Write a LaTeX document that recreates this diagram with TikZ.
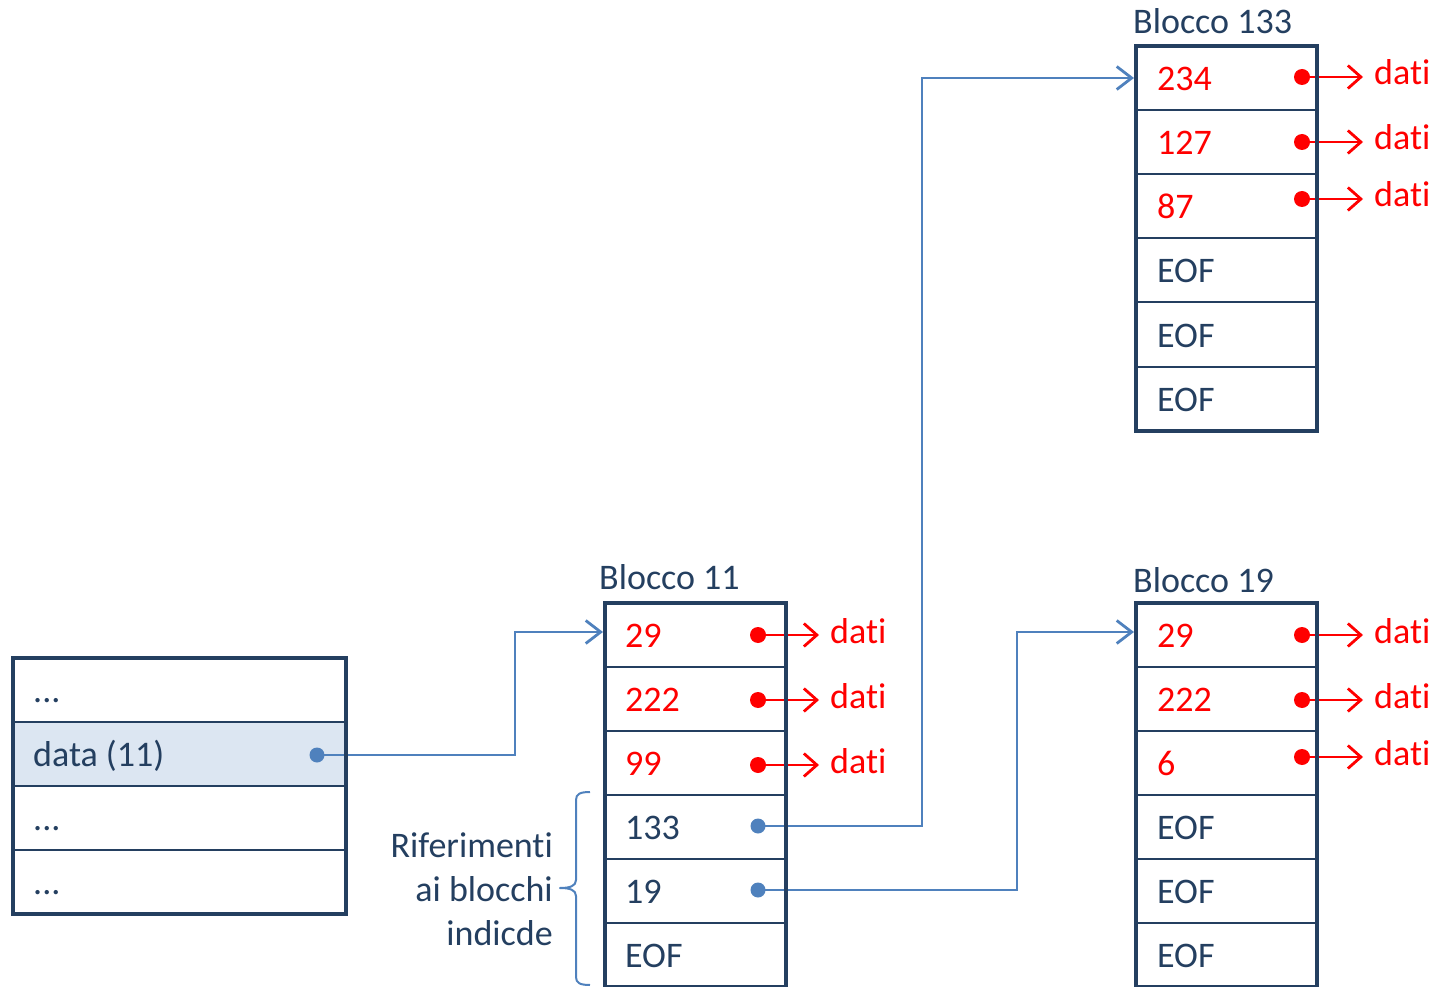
\documentclass[tikz,border=0pt]{standalone}
\usepackage{fontspec}
\setmainfont{Carlito}[Ligatures={NoCommon}]
\usetikzlibrary{arrows.meta}
\definecolor{navy}{HTML}{243F60}
\definecolor{lblue}{HTML}{4F81BD}
\definecolor{cellfill}{HTML}{DCE6F2}
\definecolor{rred}{HTML}{FF0000}
\begin{document}
\begin{tikzpicture}[x=1pt,y=-1pt,
 cell/.style={draw=navy, line width=2pt, minimum width=181pt, minimum height=64pt, inner sep=0pt, outer sep=0pt},
 wcell/.style={cell, minimum width=333pt},
 outerbox/.style={draw=navy, line width=4pt},
 lbl/.style={font=\fontsize{36}{44}\selectfont, text=navy, inner sep=0pt, anchor=base west},
 rlbl/.style={lbl, text=rred},
 rdot/.style={circle, fill=rred, minimum size=16pt, inner sep=0pt},
 bdot/.style={circle, fill=lblue, minimum size=15pt, inner sep=0pt},
 rarr/.style={draw=rred, line width=2.8pt, -{Straight Barb[length=13pt,width=23pt]}, shorten >=11pt},
 barr/.style={draw=lblue, line width=2.8pt, -{Straight Barb[length=15pt,width=23pt]}, shorten >=2pt},
]
\useasboundingbox (0,0) rectangle (1436,987);

% ---------- left block ----------
\node[wcell] (l1) at (179.5,690) {};
\node[wcell, fill=cellfill] (l2) at (179.5,754) {};
\node[wcell] (l3) at (179.5,818) {};
\node[wcell] (l4) at (179.5,882) {};
\node[lbl] (lt1) at ([xshift=20pt,yshift=-12.5pt]l1.west) {...};
\node[lbl] (lt2) at ([xshift=20pt,yshift=-12pt]l2.west) {data (11)};
\node[lbl] (lt3) at ([xshift=20pt,yshift=-12.5pt]l3.west) {...};
\node[lbl] (lt4) at ([xshift=20pt,yshift=-12.5pt]l4.west) {...};

% ---------- block 11 ----------
\foreach \i in {1,...,6} \node[cell] (b\i) at (695.5,{603+64*(\i-0.5)}) {};
\node[lbl] (bl) at (599,589) {Blocco 11};
\node[rlbl] (bt1) at ([xshift=20pt,yshift=-12.5pt]b1.west) {29};
\node[rlbl] (bt2) at ([xshift=20pt,yshift=-12.5pt]b2.west) {222};
\node[rlbl] (bt3) at ([xshift=20pt,yshift=-12.5pt]b3.west) {99};
\node[lbl] (bt4) at ([xshift=20pt,yshift=-12.5pt]b4.west) {133};
\node[lbl] (bt5) at ([xshift=20pt,yshift=-12.5pt]b5.west) {19};
\node[lbl] (bt6) at ([xshift=20pt,yshift=-12.5pt]b6.west) {EOF};

% ---------- block 133 ----------
\foreach \i in {1,...,6} \node[cell] (c\i) at (1226.5,{46.5+64*(\i-0.5)}) {};
\node[lbl] (cl) at (1133,34) {Blocco 133};
\node[rlbl] (ct1) at ([xshift=21pt,yshift=-12.5pt]c1.west) {234};
\node[rlbl] (ct2) at ([xshift=21pt,yshift=-12.5pt]c2.west) {127};
\node[rlbl] (ct3) at ([xshift=21pt,yshift=-12.5pt]c3.west) {87};
\node[lbl] (ct4) at ([xshift=21pt,yshift=-12.5pt]c4.west) {EOF};
\node[lbl] (ct5) at ([xshift=21pt,yshift=-12.5pt]c5.west) {EOF};
\node[lbl] (ct6) at ([xshift=21pt,yshift=-12.5pt]c6.west) {EOF};

% ---------- block 19 ----------
\foreach \i in {1,...,6} \node[cell] (e\i) at (1226.5,{603+64*(\i-0.5)}) {};
\node[lbl] (el) at (1133,592) {Blocco 19};
\node[rlbl] (et1) at ([xshift=21pt,yshift=-12.5pt]e1.west) {29};
\node[rlbl] (et2) at ([xshift=21pt,yshift=-12.5pt]e2.west) {222};
\node[rlbl] (et3) at ([xshift=21pt,yshift=-12.5pt]e3.west) {6};
\node[lbl] (et4) at ([xshift=21pt,yshift=-12.5pt]e4.west) {EOF};
\node[lbl] (et5) at ([xshift=21pt,yshift=-12.5pt]e5.west) {EOF};
\node[lbl] (et6) at ([xshift=21pt,yshift=-12.5pt]e6.west) {EOF};

% ---------- red pointers to data ----------
\node[rdot] (bd1) at (758,635) {};
\node[rdot] (bd2) at (758,700) {};
\node[rdot] (bd3) at (758,765) {};
\node[rlbl] (bx1) at (830,643) {dati};
\node[rlbl] (bx2) at (830,708) {dati};
\node[rlbl] (bx3) at (830,773) {dati};
\node[rdot] (cd1) at (1302,77) {};
\node[rdot] (cd2) at (1302,142) {};
\node[rdot] (cd3) at (1302,199) {};
\node[rlbl] (cx1) at (1374,85) {dati};
\node[rlbl] (cx2) at (1374,150) {dati};
\node[rlbl] (cx3) at (1374,207) {dati};
\node[rdot] (ed1) at (1302,635) {};
\node[rdot] (ed2) at (1302,700) {};
\node[rdot] (ed3) at (1302,757) {};
\node[rlbl] (ex1) at (1374,643) {dati};
\node[rlbl] (ex2) at (1374,708) {dati};
\node[rlbl] (ex3) at (1374,765) {dati};
\foreach \p in {b,c,e} \foreach \i in {1,2,3}
  \draw[rarr] (\p d\i.center) -- (\p d\i.center -| \p x\i.west);

% ---------- blue index pointers ----------
\node[bdot] (ld) at (317,755) {};
\node[bdot] (bd4) at (758,826) {};
\node[bdot] (bd5) at (758,890) {};
\coordinate (j1) at (515,632);
\coordinate (j2) at (922,78);
\coordinate (j3) at (1017,632);
\draw[barr] (ld.center) -| (j1) -- (j1 -| b1.west);
\draw[barr] (bd4.center) -| (j2) -- (j2 -| c1.west);
\draw[barr] (bd5.center) -| (j3) -- (j3 -| e1.west);

% ---------- outer borders ----------
\draw[outerbox] (l1.north west) rectangle (l4.south east);
\draw[outerbox] (b1.north west) rectangle (b6.south east);
\draw[outerbox] (c1.north west) rectangle (c6.south east);
\draw[outerbox] (e1.north west) rectangle (e6.south east);

% ---------- brace ----------
\draw[lblue, line width=2pt, line join=round]
  (590,792) .. controls (580,792) and (576,794) .. (576,800)
  -- (576,880) .. controls (576,886) and (570,888) .. (560,888)
  .. controls (570,888) and (576,890) .. (576,896)
  -- (576,977) .. controls (576,983) and (580,985) .. (590,985);
\node[font=\fontsize{36}{44}\selectfont, text=navy, align=right, anchor=east, inner sep=0pt] (rif) at (553,889) {Riferimenti\\ai blocchi\\indicde};
\end{tikzpicture}
\end{document}
